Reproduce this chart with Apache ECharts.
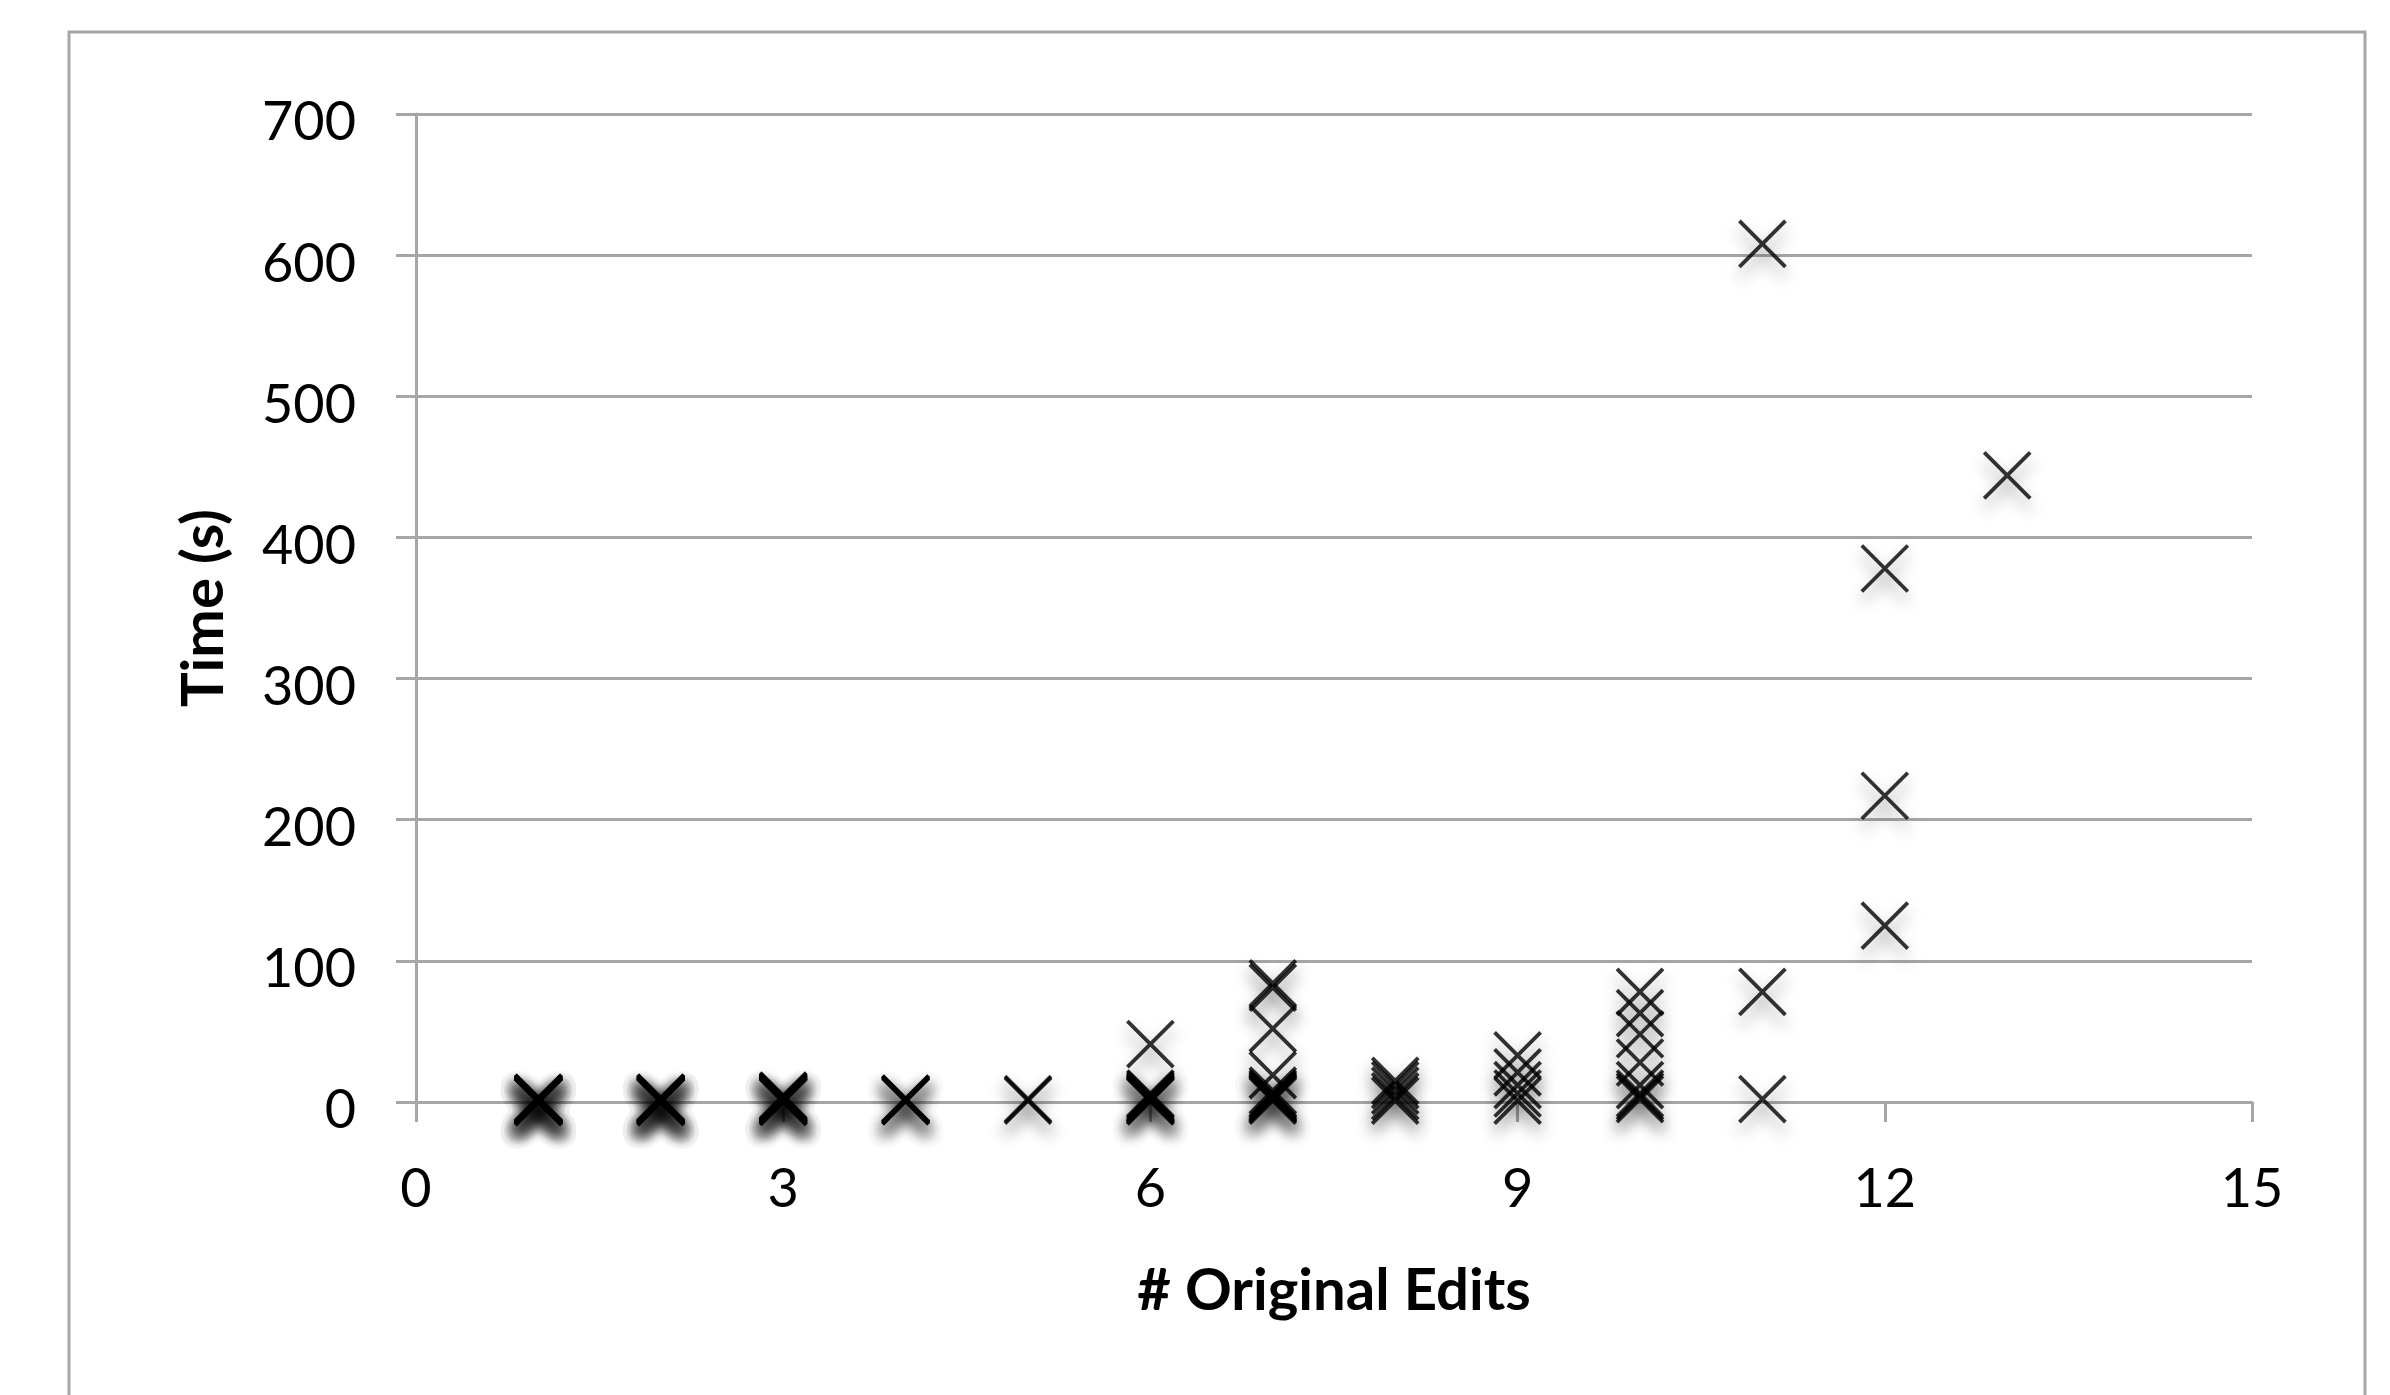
<!DOCTYPE html>
<html><head><meta charset="utf-8">
<script src="https://cdn.jsdelivr.net/npm/echarts@6/dist/echarts.min.js"></script>
<style>html,body{margin:0;padding:0;background:#fff}#c{width:2390px;height:1395px}</style>
</head><body><div id="c"></div>
<script>
// Tick values
const xTickInterval = 3;
const xMin = 0, xMax = 15;
const yTickInterval = 100;
const yMin = 0, yMax = 700;

// Observations: number of original edits (x) and time in seconds (y)
const edits1 = [1,1,1,1,1,1,1,1,1,1,1,1,1,1,1,1,1,1];
const time1  = [0,0.5,1,1,1.5,2,2,2.5,3,3,1,0.5,0,1.5,2,0.5,1,2.5];
const edits2 = [2,2,2,2,2,2,2,2,2,2,2,2,2,2,2,2,2,2];
const time2  = [0,0.5,1,1.5,2,2,2.5,3,3,1,0.5,1.5,0,1,2,0.5,1.5,2.5];
const edits3 = [3,3,3,3,3,3,3,3,3,3,3,3,3,3,3,3];
const time3  = [0,0.5,1,1.5,2,2.5,3,3.5,4,4.5,1,2,0.5,1.5,2.5,3];
const edits4 = [4,4,4,4,4,4,4];
const time4  = [0.5,1,1.5,2,2.5,1,2];
const edits5 = [5,5];
const time5  = [1,2];
const edits6 = [6,6,6,6,6,6,6,6,6,6];
const time6  = [41,6,4,3,2,1,0.5,1.5,2.5,5];
const edits7 = [7,7,7,7,7,7,7,7,7,7,7,7];
const time7  = [84,81,52,19,8,6,4,3,2,1,5,2.5];
const edits8 = [8,8,8,8,8];
const time8  = [15,12,8,4,1];
const edits9 = [9,9,9,9,9];
const time9  = [33,21,12,6,1];
const edits10 = [10,10,10,10,10,10,10,10];
const time10  = [78,63,48,28,12,6,2,4];
const edits11 = [11,11,11];
const time11  = [608,78,2];
const edits12 = [12,12,12];
const time12  = [378,217,125];
const edits13 = [13];
const time13  = [444];

const xAll = [].concat(edits1,edits2,edits3,edits4,edits5,edits6,edits7,edits8,edits9,edits10,edits11,edits12,edits13);
const yAll = [].concat(time1,time2,time3,time4,time5,time6,time7,time8,time9,time10,time11,time12,time13);
const points = xAll.map((x,i)=>[x,yAll[i]]);

const gray = '#a6a6a6';
const FONT = 'Lato';

const chart = echarts.init(document.getElementById('c'), null, {renderer:'canvas'});
chart.setOption({
  animation:false,
  backgroundColor:'#ffffff',
  textStyle:{fontFamily:FONT},
  graphic:[{
    type:'rect', z:-10, silent:true,
    shape:{x:69, y:32, width:2296, height:1500},
    style:{fill:'none', stroke:gray, lineWidth:3}
  }],
  grid:{left:416, top:114, right:138, bottom:293, containLabel:false},
  xAxis:{
    type:'value', min:xMin, max:xMax, interval:xTickInterval,
    axisLine:{show:true, onZero:false, lineStyle:{color:gray, width:3}},
    axisTick:{show:true, length:20, inside:false, lineStyle:{color:gray, width:3}},
    splitLine:{show:false},
    axisLabel:{fontSize:54, color:'#000', margin:61, fontFamily:FONT},
    name:'# Original Edits', nameLocation:'middle', nameGap:160,
    nameTextStyle:{fontSize:58, fontWeight:'bold', color:'#000', fontFamily:FONT}
  },
  yAxis:{
    type:'value', min:yMin, max:yMax, interval:yTickInterval,
    axisLine:{show:true, lineStyle:{color:gray, width:3}},
    axisTick:{show:true, length:20, inside:false, lineStyle:{color:gray, width:3}},
    splitLine:{show:true, lineStyle:{color:gray, width:3}},
    axisLabel:{fontSize:54, color:'#000', margin:60, fontFamily:FONT, verticalAlign:'top', lineHeight:18},
    name:'Time (s)', nameLocation:'middle', nameGap:183, nameRotate:90,
    nameTextStyle:{fontSize:58, fontWeight:'bold', color:'#000', fontFamily:FONT}
  },
  series:[{
    type:'scatter',
    data:points,
    symbol:'path://M0,0L10,10M10,0L0,10',
    symbolSize:46,
    symbolKeepAspect:true,
    itemStyle:{
      color:'rgba(0,0,0,0)', borderColor:'#000', borderWidth:3.8,
      shadowBlur:16, shadowColor:'rgba(0,0,0,0.5)', shadowOffsetY:10, shadowOffsetX:0
    },
    emphasis:{disabled:true},
    z:5
  }]
});
</script></body></html>
